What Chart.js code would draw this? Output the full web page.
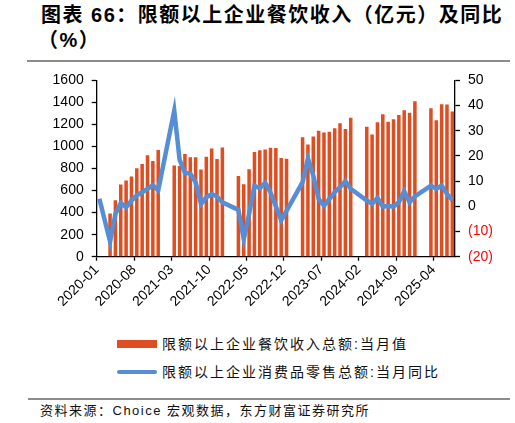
<!DOCTYPE html>
<html>
<head>
<meta charset="utf-8">
<script src="https://cdn.jsdelivr.net/npm/chart.js@4.4.1/dist/chart.umd.min.js"></script>
<style>
    body { margin: 0; background: #fff; width: 515px; height: 423px; position: relative; overflow: hidden; }
    .txt { position: absolute; white-space: nowrap; color: #111; font-family: 'Liberation Sans', 'Noto Sans CJK SC', sans-serif; }
    .title { font-size: 20px; font-weight: bold; letter-spacing: 1.5px; line-height: 24px; color: #000; }
    .rule { position: absolute; height: 2px; background: #8c8c8c; }
    .legend { font-size: 14px; letter-spacing: 2px; line-height: 18px; }
    .source { font-size: 13px; letter-spacing: 1.5px; line-height: 16px; }
    #chartBox { position: absolute; left: 0; top: 64px; width: 515px; height: 260px; }
</style>
</head>
<body>
<div class="txt title" style="left:41px; top:3px;">图表 66：限额以上企业餐饮收入（亿元）及同比</div>
<div class="txt title" style="left:38px; top:28px;">（%）</div>
<div class="rule" style="left:27px; top:60px; width:483px;"></div>

<div id="chartBox"><canvas id="chart" width="515" height="260"></canvas></div>

<div style="position:absolute; left:117px; top:340px; width:40px; height:8px; background:#DF4E20;"></div>
<div class="txt legend" style="left:162px; top:335px;">限额以上企业餐饮收入总额:当月值</div>
<div style="position:absolute; left:117px; top:370px; width:40px; height:4px; border-radius:2px; background:#558ED5;"></div>
<div class="txt legend" style="left:162px; top:363px;">限额以上企业消费品零售总额:当月同比</div>

<div class="rule" style="left:28px; top:398px; width:482px;"></div>
<div class="txt source" style="left:40px; top:403px;">资料来源：Choice 宏观数据，东方财富证券研究所</div>

<script>
// ============================================
// Data
// ============================================
const months = [
    '2020-01', '2020-02', '2020-03', '2020-04', '2020-05', '2020-06', '2020-07', '2020-08', '2020-09', '2020-10', '2020-11', '2020-12',
    '2021-01', '2021-02', '2021-03', '2021-04', '2021-05', '2021-06', '2021-07', '2021-08', '2021-09', '2021-10', '2021-11', '2021-12',
    '2022-01', '2022-02', '2022-03', '2022-04', '2022-05', '2022-06', '2022-07', '2022-08', '2022-09', '2022-10', '2022-11', '2022-12',
    '2023-01', '2023-02', '2023-03', '2023-04', '2023-05', '2023-06', '2023-07', '2023-08', '2023-09', '2023-10', '2023-11', '2023-12',
    '2024-01', '2024-02', '2024-03', '2024-04', '2024-05', '2024-06', '2024-07', '2024-08', '2024-09', '2024-10', '2024-11', '2024-12',
    '2025-01', '2025-02', '2025-03', '2025-04', '2025-05', '2025-06', '2025-07'
];

// 限额以上企业餐饮收入总额:当月值 (亿元)
const cateringRevenue = [
    null, null, 392, 513, 655, 691, 727, 802, 841, 920, 868, 968,
    null, null, 827, 823, 931, 902, 902, 792, 908, 982, 886, 990,
    null, null, 733, 657, 793, 950, 965, 974, 989, 986, 895, 890,
    null, null, 1085, 1019, 1091, 1143, 1127, 1134, 1166, 1212, 1158, 1260,
    null, null, 1179, 1109, 1221, 1293, 1224, 1248, 1287, 1329, 1306, 1410,
    null, null, 1347, 1239, 1383, 1381, 1317
];

// 限额以上企业消费品零售总额:当月同比 (%)
const retailYoY = [
    3, null, -14, -3, 1.3, -0.4, 2.3, 4.4, 5.6, 6.9, 8.4, 6.3,
    null, null, 38, 18.5, 13.3, 13, 9.5, 0.9, 3.6, 4.9, 3.9, 1.6,
    null, null, -1.4, -13, -3, 8.2, 7.2, 9.4, 5.5, 0, -5.5, -1.8,
    null, null, 9.6, 19, 12.2, 2.9, 0.3, 2.9, 5.6, 7.6, 10, 7,
    null, null, 2.3, 1, 3.3, -0.1, 0.1, -0.1, 1.6, 6, 1.6, 3.9,
    null, null, 8.2, 6.9, 8.2, 4.9, 2.5
];

const leftTicks = { min: 0, max: 1600, step: 200 };
const rightTicks = { min: -20, max: 50, step: 10 };
const labelEvery = 7;

// ============================================
// Chart
// ============================================
const barColor = '#DF4E20';
const lineColor = '#558ED5';
const axisFont = { family: "'Liberation Sans', Arial, sans-serif", size: 14 };

new Chart(document.getElementById('chart').getContext('2d'), {
    type: 'bar',
    data: {
        labels: months,
        datasets: [
            {
                type: 'line',
                label: '限额以上企业消费品零售总额:当月同比',
                data: retailYoY,
                yAxisID: 'y1',
                borderColor: lineColor,
                borderWidth: 4.5,
                pointRadius: 0,
                spanGaps: true,
                tension: 0,
                order: 0
            },
            {
                label: '限额以上企业餐饮收入总额:当月值',
                data: cateringRevenue,
                yAxisID: 'y',
                backgroundColor: barColor,
                barPercentage: 0.66,
                categoryPercentage: 1,
                order: 1
            }
        ]
    },
    options: {
        responsive: false,
        animation: false,
        devicePixelRatio: 1,
        layout: { padding: { top: 15.5, left: 0, right: 0, bottom: 0 } },
        plugins: {
            legend: { display: false },
            tooltip: { enabled: false }
        },
        scales: {
            x: {
                offset: true,
                grid: {
                    offset: true,
                    drawOnChartArea: false,
                    drawTicks: true,
                    tickLength: 4,
                    tickWidth: 1.3,
                    tickColor: (ctx) => (ctx.index % labelEvery === 0 ? '#000' : 'rgba(0,0,0,0)')
                },
                border: { color: '#000', width: 1.3 },
                ticks: {
                    autoSkip: false,
                    maxRotation: 45,
                    minRotation: 45,
                    labelOffset: -2.67,
                    padding: 1,
                    color: '#000',
                    font: axisFont,
                    callback: function(value, index) {
                        return index % labelEvery === 0 ? months[index] : '';
                    }
                },
                afterFit: (scale) => { scale.height = 67.3; }
            },
            y: {
                position: 'left',
                min: leftTicks.min,
                max: leftTicks.max,
                grid: { drawOnChartArea: false, tickLength: 5, tickColor: '#000', tickWidth: 1.3 },
                border: { color: '#000', width: 1.3 },
                ticks: {
                    stepSize: leftTicks.step,
                    color: '#000',
                    font: axisFont,
                    padding: 8,
                    callback: (v) => String(v)
                },
                afterFit: (scale) => { scale.width = 96.7; }
            },
            y1: {
                position: 'right',
                min: rightTicks.min,
                max: rightTicks.max,
                grid: { drawOnChartArea: false, tickLength: 5, tickColor: '#000', tickWidth: 1.3 },
                border: { color: '#000', width: 1.3 },
                ticks: {
                    stepSize: rightTicks.step,
                    font: axisFont,
                    padding: 8,
                    color: (ctx) => (ctx.tick && ctx.tick.value < 0 ? '#FF0000' : '#000'),
                    callback: (v) => (v < 0 ? '(' + (-v) + ')' : String(v))
                },
                afterFit: (scale) => { scale.width = 60; }
            }
        }
    }
});
</script>
</body>
</html>
